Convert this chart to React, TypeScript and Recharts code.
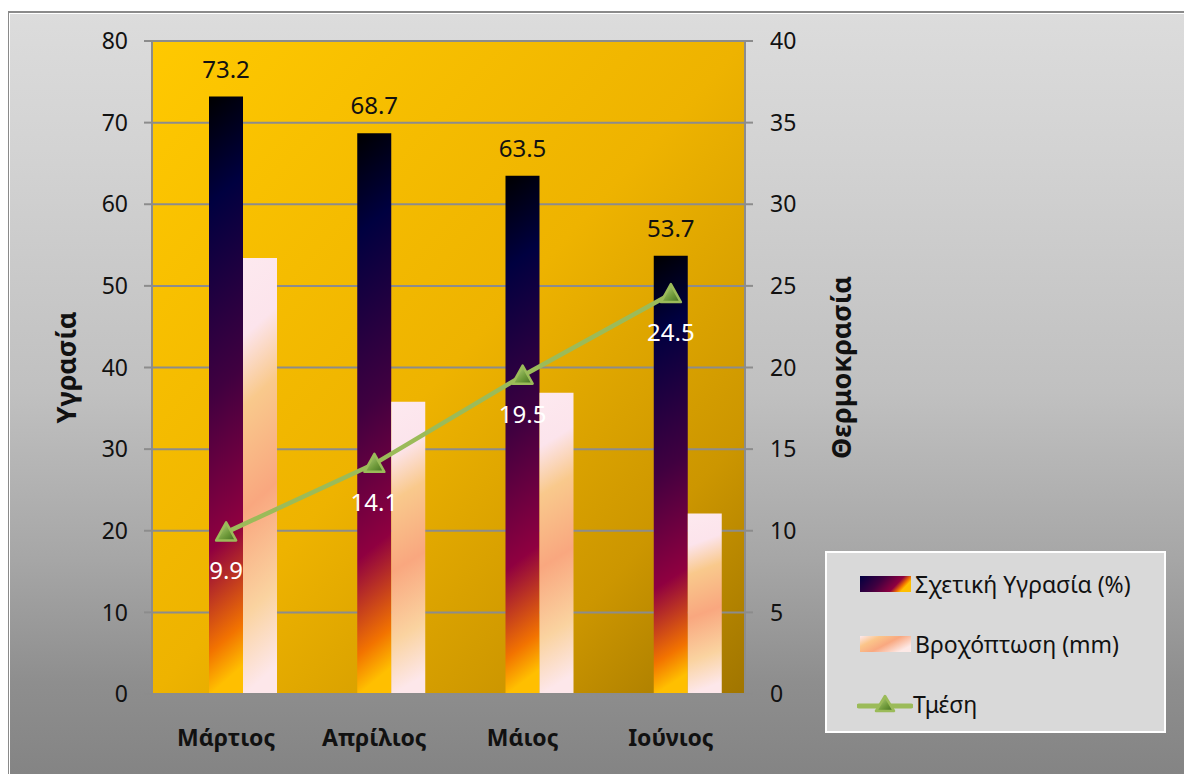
import {
  Bar,
  CartesianGrid,
  ComposedChart,
  LabelList,
  Legend,
  Line,
  XAxis,
  YAxis,
} from "recharts";

const months = ["Μάρτιος", "Απρίλιος", "Μάιος", "Ιούνιος"];
const humidity = [73.2, 68.7, 63.5, 53.7];
const rainfall = [53.4, 35.8, 36.9, 22.1];
const temperature = [9.9, 14.1, 19.5, 24.5];

const humidityTicks = [0, 10, 20, 30, 40, 50, 60, 70, 80];
const temperatureTicks = [0, 5, 10, 15, 20, 25, 30, 35, 40];

const humidityName = "Σχετική Υγρασία (%)";
const rainfallName = "Βροχόπτωση (mm)";
const temperatureName = "Τμέση";

const rows = months.map((month, i) => ({
  month,
  humidity: humidity[i],
  rainfall: rainfall[i],
  temperature: temperature[i],
}));

const FONT = "'Noto Sans', 'DejaVu Sans', sans-serif";
const AXIS_GREY = "#8c8c8c";
const LINE_GREEN = "#9bbb59";

function MonthTick(props: any) {
  const { x, y, payload, index, visibleTicksCount } = props;
  const half = payload.offset ?? 74;
  const last = index === (visibleTicksCount ?? months.length) - 1;
  return (
    <g>
      <line x1={x - half} x2={x - half} y1={y - 8} y2={y} stroke={AXIS_GREY} strokeWidth={2} />
      {last && <line x1={x + half} x2={x + half} y1={y - 8} y2={y} stroke={AXIS_GREY} strokeWidth={2} />}
      <text x={x} y={y + 44} textAnchor="middle" fontWeight={700} fontSize={23} fill="#111" fontFamily={FONT}>
        {payload.value}
      </text>
    </g>
  );
}

function TriangleDot(props: any) {
  const { cx, cy } = props;
  if (cx == null || cy == null) return null;
  return (
    <path
      d={`M ${cx} ${cy - 10} L ${cx + 10} ${cy + 8} L ${cx - 10} ${cy + 8} Z`}
      fill="url(#dotGrad)"
      stroke={LINE_GREEN}
      strokeWidth={2.5}
      strokeLinejoin="round"
    />
  );
}

function AxisTitle({ x, y, text }: { x: number; y: number; text: string }) {
  return (
    <text
      x={x}
      y={y}
      transform={`rotate(-90, ${x}, ${y})`}
      textAnchor="middle"
      dominantBaseline="central"
      fontWeight={700}
      fontSize={27}
      fill="#111"
      fontFamily={FONT}
    >
      {text}
    </text>
  );
}

function ChartLegend() {
  const row = { display: "flex", alignItems: "center", height: 60 } as const;
  const label = { fontSize: 23, color: "#111", marginLeft: 4, lineHeight: "26px" } as const;
  return (
    <div
      style={{
        width: 337,
        height: 178,
        background: "#d9d9d9",
        border: "2px solid #ffffff",
        boxSizing: "content-box",
        fontFamily: FONT,
      }}
    >
      <div style={{ ...row, marginTop: 1, paddingLeft: 33 }}>
        <svg width={51} height={16}>
          <defs>
            <linearGradient id="lgHum" x1="0" y1="0" x2="1" y2="0.3">
              <stop offset="0" stopColor="#000040" />
              <stop offset="0.45" stopColor="#400040" />
              <stop offset="0.8" stopColor="#8f0040" />
              <stop offset="0.93" stopColor="#f27300" />
              <stop offset="1" stopColor="#ffbf00" />
            </linearGradient>
          </defs>
          <rect width={51} height={16} fill="url(#lgHum)" />
        </svg>
        <span style={label}>{humidityName}</span>
      </div>
      <div style={{ ...row, paddingLeft: 33 }}>
        <svg width={51} height={16}>
          <defs>
            <linearGradient id="lgRain" x1="0" y1="0" x2="1" y2="0.6">
              <stop offset="0" stopColor="#fde9ee" />
              <stop offset="0.3" stopColor="#fbc58a" />
              <stop offset="0.6" stopColor="#f9a880" />
              <stop offset="1" stopColor="#fde9e6" />
            </linearGradient>
          </defs>
          <rect width={51} height={16} fill="url(#lgRain)" />
        </svg>
        <span style={label}>{rainfallName}</span>
      </div>
      <div style={{ ...row, paddingLeft: 30 }}>
        <svg width={56} height={24}>
          <defs>
            <linearGradient id="lgDot" x1="0" y1="0" x2="1" y2="1">
              <stop offset="0" stopColor="#c3dc8c" />
              <stop offset="0.6" stopColor="#6f9a3a" />
              <stop offset="1" stopColor="#3f6b1f" />
            </linearGradient>
          </defs>
          <line x1={2} x2={54} y1={14} y2={14} stroke={LINE_GREEN} strokeWidth={5} strokeLinecap="round" />
          <path d="M 28 4 L 37 19 L 19 19 Z" fill="url(#lgDot)" stroke={LINE_GREEN} strokeWidth={2.5} strokeLinejoin="round" />
        </svg>
        <span style={{ ...label, marginLeft: 0 }}>{temperatureName}</span>
      </div>
    </div>
  );
}

export default function App() {
  return (
    <div
      style={{
        position: "relative",
        marginLeft: -1,
        marginTop: 3,
        width: 1185,
        height: 763,
        overflow: "hidden",
        background: "linear-gradient(180deg, #dcdcdc 0%, #d2d2d2 20%, #c0c0c0 50%, #a6a6a6 72%, #8e8e8e 88%, #848484 100%)",
        fontFamily: FONT,
      }}
    >
      <ComposedChart
        width={1185}
        height={763}
        data={rows}
        margin={{ top: 30, right: 337, bottom: 0, left: 0 }}
        barCategoryGap={23}
        barGap={0}
        style={{ fontFamily: FONT }}
      >
        <defs>
          <linearGradient id="plotBg" x1="0" y1="0" x2="1" y2="1">
            <stop offset="0" stopColor="#ffc900" />
            <stop offset="0.5" stopColor="#eeb300" />
            <stop offset="0.8" stopColor="#cc9600" />
            <stop offset="1" stopColor="#a07500" />
          </linearGradient>
          <linearGradient id="humGrad" x1="0" y1="0" x2="0.05" y2="1">
            <stop offset="0" stopColor="#000000" />
            <stop offset="0.18" stopColor="#000040" />
            <stop offset="0.5" stopColor="#400040" />
            <stop offset="0.76" stopColor="#8f0040" />
            <stop offset="0.93" stopColor="#f27300" />
            <stop offset="1" stopColor="#ffbf00" />
          </linearGradient>
          <linearGradient id="rainGrad" x1="0" y1="0" x2="0.07" y2="1">
            <stop offset="0" stopColor="#fde9ef" />
            <stop offset="0.18" stopColor="#fce4ec" />
            <stop offset="0.34" stopColor="#f9c98c" />
            <stop offset="0.58" stopColor="#f9a77f" />
            <stop offset="0.82" stopColor="#fad3a0" />
            <stop offset="1" stopColor="#fde7ea" />
          </linearGradient>
          <linearGradient id="dotGrad" x1="0" y1="0" x2="1" y2="1">
            <stop offset="0" stopColor="#c3dc8c" />
            <stop offset="0.6" stopColor="#6f9a3a" />
            <stop offset="1" stopColor="#3f6b1f" />
          </linearGradient>
        </defs>

        <CartesianGrid
          yAxisId="left"
          vertical={false}
          stroke={AXIS_GREY}
          strokeWidth={2}
          fill="url(#plotBg)"
          fillOpacity={1}
        />

        <XAxis
          dataKey="month"
          height={80}
          axisLine={{ stroke: AXIS_GREY, strokeWidth: 2 }}
          tickLine={false}
          tickSize={8}
          tickMargin={0}
          tick={<MonthTick />}
          interval={0}
        />
        <YAxis
          yAxisId="left"
          width={145}
          domain={[0, 80]}
          ticks={humidityTicks}
          interval={0}
          axisLine={{ stroke: AXIS_GREY, strokeWidth: 2 }}
          tickLine={{ stroke: AXIS_GREY, strokeWidth: 2 }}
          tickSize={8}
          tickMargin={16}
          tick={{ fontSize: 23, fill: "#111", fontFamily: FONT }}
          label={{
            content: (p: any) => {
              const vb = p.viewBox ?? { x: 0, y: 30, width: 145, height: 653 };
              return <AxisTitle x={58} y={vb.y + vb.height / 2} text="Υγρασία" />;
            },
          }}
        />
        <YAxis
          yAxisId="right"
          orientation="right"
          width={110}
          domain={[0, 40]}
          ticks={temperatureTicks}
          interval={0}
          axisLine={{ stroke: AXIS_GREY, strokeWidth: 2 }}
          tickLine={{ stroke: AXIS_GREY, strokeWidth: 2 }}
          tickSize={8}
          tickMargin={17}
          tick={{ fontSize: 23, fill: "#111", fontFamily: FONT, textAnchor: "start" }}
          label={{
            content: (p: any) => {
              const vb = p.viewBox ?? { x: 738, y: 30, width: 110, height: 653 };
              return <AxisTitle x={vb.x + 95} y={vb.y + vb.height / 2} text="Θερμοκρασία" />;
            },
          }}
        />

        <Bar yAxisId="left" dataKey="spacer" barSize={34} fill="none" legendType="none" isAnimationActive={false} />
        <Bar
          yAxisId="left"
          dataKey="humidity"
          name={humidityName}
          barSize={34}
          fill="url(#humGrad)"
          isAnimationActive={false}
        >
          <LabelList dataKey="humidity" position="top" offset={19} fill="#111" fontSize={24} fontFamily={FONT} />
        </Bar>
        <Bar
          yAxisId="left"
          dataKey="rainfall"
          name={rainfallName}
          barSize={34}
          fill="url(#rainGrad)"
          isAnimationActive={false}
        />
        <Line
          yAxisId="right"
          dataKey="temperature"
          name={temperatureName}
          stroke={LINE_GREEN}
          strokeWidth={4.5}
          dot={(p: any) => <TriangleDot key={`dot-${p.index}`} {...p} />}
          activeDot={false}
          isAnimationActive={false}
        >
          <LabelList dataKey="temperature" position="bottom" offset={30} fill="#ffffff" fontSize={24} fontFamily={FONT} />
        </Line>

        <Legend
          layout="horizontal"
          verticalAlign="middle"
          align="center"
          wrapperStyle={{ left: 818, top: 540, width: 341, height: 182 }}
          content={() => <ChartLegend />}
        />
      </ComposedChart>
      <div
        style={{
          position: "absolute",
          left: 0,
          top: 0,
          right: 0,
          bottom: 0,
          borderTop: "2px solid #8a8a8a",
          borderLeft: "2px solid #8a8a8a",
          boxShadow: "inset 1px 1px 0 #ffffff",
          pointerEvents: "none",
        }}
      />
    </div>
  );
}
